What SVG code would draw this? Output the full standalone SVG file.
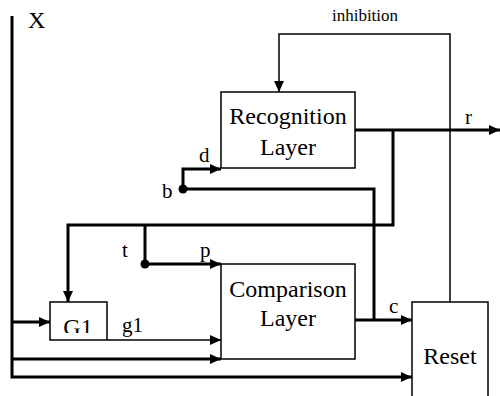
<svg xmlns="http://www.w3.org/2000/svg" width="500" height="396" viewBox="0 0 500 396">
<style>
.box{fill:#fff;stroke:#000;stroke-width:1.5}
.thick{fill:none;stroke:#000;stroke-width:3}
.thin{fill:none;stroke:#000;stroke-width:1.5}
.big{font-family:"Liberation Serif",serif;font-size:24px;fill:#000}
.lab{font-family:"Liberation Serif",serif;font-size:21px;fill:#000}
.small{font-family:"Liberation Serif",serif;font-size:17px;fill:#000}
</style>
<defs>
<marker id="ah" viewBox="0 0 11 10" refX="11" refY="5" markerUnits="userSpaceOnUse" markerWidth="11" markerHeight="10" orient="auto">
<path d="M0,0 L11,5 L0,10 Z" fill="#000"/>
</marker>
<clipPath id="g1clip"><rect x="50" y="302" width="57" height="31"/></clipPath>
</defs>
<g id="connectors">
<path class="thick" d="M12,16 V377 H412" marker-end="url(#ah)"/>
<path class="thick" d="M12,322 H50" marker-end="url(#ah)"/>
<path class="thick" d="M12,359 H221" marker-end="url(#ah)"/>
<path class="thin" d="M107,340 H221" marker-end="url(#ah)"/>
<path class="thick" d="M355,130 H500" marker-end="url(#ah)"/>
<path class="thick" d="M393,130 V225 H68 V302" marker-end="url(#ah)"/>
<path class="thick" d="M145,225 V264 H221" marker-end="url(#ah)"/>
<circle cx="145" cy="264" r="4.5" fill="#000"/>
<path class="thick" d="M355,320 H412" marker-end="url(#ah)"/>
<path class="thick" d="M374,320 V189 H183 V169 H221" marker-end="url(#ah)"/>
<circle cx="183" cy="189" r="4.5" fill="#000"/>
<path class="thin" d="M450,302 V34 H279 V92" marker-end="url(#ah)"/>
</g>
<g id="recognition">
<rect class="box" x="221" y="92" width="134" height="76"/>
<text class="big" x="288" y="124" text-anchor="middle">Recognition</text>
<text class="big" x="288" y="155" text-anchor="middle">Layer</text>
</g>
<g id="comparison">
<rect class="box" x="221" y="264" width="134" height="95"/>
<text class="big" x="288" y="297" text-anchor="middle">Comparison</text>
<text class="big" x="288" y="326" text-anchor="middle">Layer</text>
</g>
<g id="g1">
<rect class="box" x="50" y="302" width="57" height="38"/>
<text class="big" x="78" y="335" text-anchor="middle" clip-path="url(#g1clip)">G1</text>
</g>
<g id="reset">
<rect class="box" x="412" y="302" width="76" height="110"/>
<text class="big" x="450" y="364" text-anchor="middle">Reset</text>
</g>
<g id="labels">
<text class="big" x="28" y="28">X</text>
<text class="small" x="365" y="21" text-anchor="middle">inhibition</text>
<text class="lab" x="465" y="124">r</text>
<text class="lab" x="199" y="162">d</text>
<text class="lab" x="162" y="198">b</text>
<text class="lab" x="122" y="257">t</text>
<text class="lab" x="200" y="257">p</text>
<text class="lab" x="122" y="332">g1</text>
<text class="lab" x="389" y="313">c</text>
</g>
</svg>
